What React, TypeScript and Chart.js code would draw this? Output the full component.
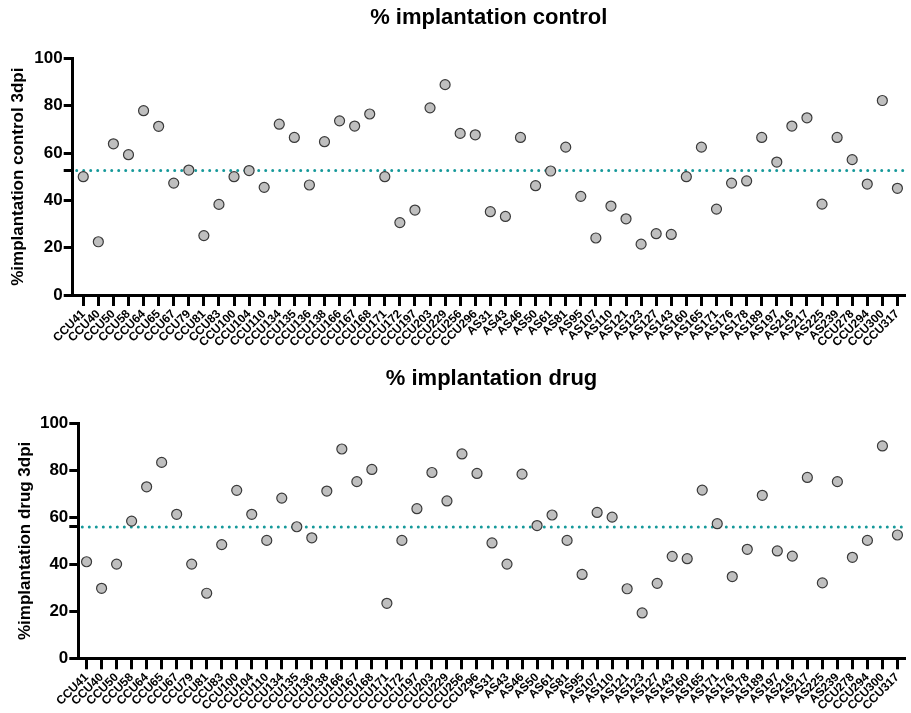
import React, { useEffect, useRef } from 'react';
import { Chart, registerables } from 'chart.js';

Chart.register(...registerables);

const categories = [
  'CCU41', 'CCU40', 'CCU50', 'CCU58', 'CCU64', 'CCU65', 'CCU67', 'CCU79', 'CCU81', 'CCU83',
  'CCU100', 'CCU104', 'CCU110', 'CCU134', 'CCU135', 'CCU136', 'CCU138', 'CCU166', 'CCU167', 'CCU168',
  'CCU171', 'CCU172', 'CCU197', 'CCU203', 'CCU229', 'CCU256', 'CCU296',
  'AS31', 'AS43', 'AS46', 'AS50', 'AS61', 'AS81', 'AS95', 'AS107', 'AS110', 'AS121',
  'AS123', 'AS127', 'AS143', 'AS160', 'AS165', 'AS171', 'AS176', 'AS178', 'AS189', 'AS197',
  'AS216', 'AS217', 'AS225', 'AS239',
  'CCU278', 'CCU294', 'CCU300', 'CCU317',
];

const controlValues = [
  50.0, 22.5, 63.9, 59.3, 77.9, 71.3, 47.3, 52.8, 25.1, 38.3,
  50.0, 52.6, 45.5, 72.2, 66.6, 46.5, 64.8, 73.6, 71.4, 76.5,
  50.0, 30.6, 35.9, 79.1, 88.9, 68.3, 67.7,
  35.2, 33.2, 66.6, 46.2, 52.4, 62.5, 41.7, 24.1, 37.6, 32.2,
  21.5, 25.9, 25.6, 50.0, 62.5, 36.3, 47.3, 48.2, 66.6, 56.2,
  71.4, 74.9, 38.4, 66.6,
  57.2, 46.9, 82.2, 45.1,
];

const drugValues = [
  41.1, 29.8, 40.1, 58.4, 73.0, 83.4, 61.3, 40.1, 27.7, 48.4,
  71.5, 61.3, 50.2, 68.2, 56.0, 51.3, 71.2, 89.1, 75.2, 80.4,
  23.4, 50.2, 63.7, 79.1, 67.0, 87.0, 78.7,
  49.1, 40.1, 78.4, 56.5, 61.0, 50.2, 35.7, 62.1, 60.1, 29.6,
  19.3, 31.9, 43.4, 42.4, 71.6, 57.3, 34.8, 46.4, 69.4, 45.7,
  43.5, 77.0, 32.1, 75.2,
  43.0, 50.2, 90.4, 52.5,
];

const controlMean = 52.6;
const drugMean = 55.9;
const yTickValues = [0, 20, 40, 60, 80, 100];

const FONT = "'Liberation Sans', Arial, Helvetica, sans-serif";

const meanLinePlugin = {
  id: 'meanLine',
  beforeDatasetsDraw(chart: any, _args: any, opts: any) {
    const { ctx, chartArea } = chart;
    const y = chart.scales.y.getPixelForValue(opts.value);
    ctx.save();
    ctx.beginPath();
    ctx.setLineDash([0, 7]);
    ctx.lineCap = 'round';
    ctx.lineWidth = 3;
    ctx.strokeStyle = opts.color;
    ctx.moveTo(chartArea.left + 4, y);
    ctx.lineTo(chartArea.right, y);
    ctx.stroke();
    ctx.restore();
  },
};

interface Spec {
  title: string;
  yTitle: string;
  values: number[];
  mean: number;
  height: number;
  yWidth: number;
  xHeight: number;
  xMin: number;
  xMax: number;
  titlePadTop: number;
  titlePadBottom: number;
  yTitlePadTop: number;
}

function buildConfig(s: Spec): any {
  return {
    type: 'scatter',
    data: {
      datasets: [
        {
          data: s.values.map((v, i) => ({ x: i, y: v })),
          pointRadius: 5,
          pointHoverRadius: 5,
          backgroundColor: '#bfbfbf',
          borderColor: '#3a3a3a',
          borderWidth: 1.2,
          showLine: false,
        },
      ],
    },
    options: {
      responsive: false,
      animation: false,
      events: [],
      layout: { padding: { left: 0, right: 0, top: 0, bottom: 0 } },
      plugins: {
        legend: { display: false },
        tooltip: { enabled: false },
        title: {
          display: true,
          fullSize: false,
          text: s.title,
          color: '#000',
          font: { family: FONT, size: 22, weight: 'bold' },
          padding: { top: s.titlePadTop, bottom: s.titlePadBottom },
        },
        meanLine: { value: s.mean, color: '#16999a' },
      },
      scales: {
        x: {
          type: 'linear',
          position: 'bottom',
          min: s.xMin,
          max: s.xMax,
          afterBuildTicks: (scale: any) => {
            scale.ticks = categories.map((_, i) => ({ value: i }));
          },
          afterFit: (scale: any) => {
            scale.height = s.xHeight;
          },
          ticks: {
            autoSkip: false,
            minRotation: 45,
            maxRotation: 45,
            padding: 1,
            color: '#000',
            font: { family: FONT, size: 12, weight: 'bold' },
            callback: (v: any) => categories[Math.round(v)],
          },
          grid: {
            drawOnChartArea: false,
            drawTicks: true,
            tickLength: 11,
            lineWidth: 3,
            color: '#000',
          },
          border: { display: true, width: 3, color: '#000' },
        },
        y: {
          type: 'linear',
          min: 0,
          max: 100,
          afterBuildTicks: (scale: any) => {
            scale.ticks = [...yTickValues, s.mean]
              .sort((a, b) => a - b)
              .map((v) => ({ value: v }));
          },
          afterFit: (scale: any) => {
            scale.width = s.yWidth;
          },
          ticks: {
            autoSkip: false,
            padding: 1,
            color: '#000',
            font: { family: FONT, size: 17, weight: 'bold' },
            callback: (v: any) => (yTickValues.includes(v) ? String(v) : ''),
          },
          grid: {
            drawOnChartArea: false,
            drawTicks: true,
            tickLength: 9,
            lineWidth: 3,
            color: '#000',
          },
          border: { display: true, width: 3, color: '#000' },
          title: {
            display: true,
            text: s.yTitle,
            color: '#000',
            font: { family: FONT, size: 17, weight: 'bold' },
            padding: { top: s.yTitlePadTop, bottom: 2 },
          },
        },
      },
    },
    plugins: [meanLinePlugin],
  };
}

const specs: Spec[] = [
  {
    title: '% implantation control',
    yTitle: '%implantation control 3dpi',
    values: controlValues,
    mean: controlMean,
    height: 356,
    yWidth: 72.7,
    xHeight: 61,
    xMin: -0.7,
    xMax: 54.49,
    titlePadTop: 5,
    titlePadBottom: 27,
    yTitlePadTop: 8,
  },
  {
    title: '% implantation drug',
    yTitle: '%implantation drug 3dpi',
    values: drugValues,
    mean: drugMean,
    height: 357,
    yWidth: 78.3,
    xHeight: 54.7,
    xMin: -0.55,
    xMax: 54.49,
    titlePadTop: 10,
    titlePadBottom: 31,
    yTitlePadTop: 15,
  },
];

function ScatterPanel({ spec, top }: { spec: Spec; top: number }) {
  const ref = useRef<HTMLCanvasElement | null>(null);
  useEffect(() => {
    if (!ref.current) return;
    const chart = new Chart(ref.current, buildConfig(spec));
    return () => chart.destroy();
  }, [spec]);
  return (
    <canvas
      ref={ref}
      width={911}
      height={spec.height}
      style={{ position: 'absolute', left: 0, top, width: 911, height: spec.height, display: 'block' }}
    />
  );
}

export default function App() {
  return (
    <div style={{ position: 'absolute', left: 0, top: 0, width: 911, height: 713, background: '#fff' }}>
      <ScatterPanel spec={specs[0]} top={0} />
      <ScatterPanel spec={specs[1]} top={356} />
    </div>
  );
}
